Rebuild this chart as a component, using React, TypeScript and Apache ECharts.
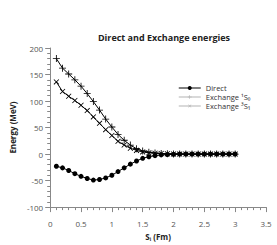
import React, { useEffect, useRef } from "react";
import * as echarts from "echarts";

const xValues = [0.1, 0.2, 0.3, 0.4, 0.5, 0.6, 0.7, 0.8, 0.9, 1.0, 1.1, 1.2, 1.3, 1.4, 1.5, 1.6, 1.7, 1.8, 1.9, 2.0, 2.1, 2.2, 2.3, 2.4, 2.5, 2.6, 2.7, 2.8, 2.9, 3.0];
const directValues = [-23, -26, -31, -37, -42, -46, -49, -48, -45, -40, -33, -26, -19, -13, -8, -5, -3, -1.5, -1, -0.5, 0, 0, 0, 0, 0, 0, 0, 0, 0, 0];
const exchange1S0 = [180, 162, 151, 140, 128, 114, 99, 83, 66, 51, 37, 26, 17, 10, 6, 3.5, 2, 1, 0.5, 0.3, 0, 0, 0, 0, 0, 0, 0, 0, 0, 0];
const exchange3S1 = [136, 118, 109, 101, 92, 82, 70, 58, 46, 35, 24, 17, 11, 7, 4, 2.5, 1.5, 1, 0.5, 0.2, 0, 0, 0, 0, 0, 0, 0, 0, 0, 0];

const seriesNames = ["Direct", "Exchange ¹S₀", "Exchange ³S₁"];
const titleText = "Direct and Exchange energies";
const xAxisName = "Sᵢ (Fm)";
const yAxisName = "Energy (MeV)";

const plusPath = "path://M4.4,0h1.2v10h-1.2z M0,4.4h10v1.2h-10z";

export default function App() {
  const ref = useRef<HTMLDivElement>(null);
  useEffect(() => {
    if (!ref.current) return;
    const chart = echarts.init(ref.current, null, { renderer: "svg" });
    const pair = (vals: number[]) => xValues.map((x, i) => [x, vals[i]]);
    const font = "Open Sans";
    chart.setOption({
      animation: false,
      textStyle: { fontFamily: font },
      title: {
        text: titleText,
        left: 159,
        textAlign: "center",
        top: 28,
        textStyle: { fontSize: 9, fontWeight: "bold", color: "#222", fontFamily: font },
      },
      legend: {
        orient: "vertical",
        left: 178,
        top: 84,
        itemWidth: 22,
        itemHeight: 5,
        itemGap: 1,
        padding: 0,
        textStyle: { fontSize: 7.5, lineHeight: 8, color: "#333", fontFamily: font },
        data: [
          { name: seriesNames[0], lineStyle: { width: 1 } },
          { name: seriesNames[1], itemStyle: { color: "#aaa" }, lineStyle: { color: "#ccc", width: 1.5 } },
          { name: seriesNames[2], itemStyle: { color: "#aaa" }, lineStyle: { color: "#ccc", width: 1.5 } },
        ],
      },
      grid: { left: 45, right: 11, top: 48, bottom: 33, containLabel: false },
      xAxis: {
        type: "value",
        min: 0,
        max: 3.5,
        interval: 0.5,
        name: xAxisName,
        nameLocation: "middle",
        nameGap: 22,
        nameTextStyle: { fontSize: 8, fontWeight: "bold", color: "#222" },
        axisLine: { onZero: false, lineStyle: { color: "#888" } },
        axisTick: { show: true, length: 5, lineStyle: { color: "#888" } },
        minorTick: { show: true, splitNumber: 5, length: 3, lineStyle: { color: "#888" } },
        axisLabel: { fontSize: 8, color: "#555", margin: 12 },
        splitLine: { show: false },
      },
      yAxis: {
        type: "value",
        min: -100,
        max: 200,
        interval: 50,
        name: yAxisName,
        nameLocation: "middle",
        nameGap: 33,
        nameTextStyle: { fontSize: 8, fontWeight: "bold", color: "#222" },
        axisLine: { show: true, lineStyle: { color: "#888" } },
        axisTick: { show: true, length: 5, lineStyle: { color: "#888" } },
        minorTick: { show: true, splitNumber: 5, length: 3, lineStyle: { color: "#888" } },
        axisLabel: { fontSize: 8, color: "#555", margin: 7 },
        splitLine: { show: false },
      },
      series: [
        {
          name: seriesNames[0],
          type: "line",
          data: pair(directValues),
          symbol: "circle",
          symbolSize: 5,
          showAllSymbol: true,
          itemStyle: { color: "#000" },
          lineStyle: { color: "#000", width: 1 },
        },
        {
          name: seriesNames[1],
          type: "line",
          data: pair(exchange1S0),
          symbol: plusPath,
          symbolSize: 7,
          showAllSymbol: true,
          itemStyle: { color: "#000" },
          lineStyle: { color: "#000", width: 1 },
        },
        {
          name: seriesNames[2],
          type: "line",
          data: pair(exchange3S1),
          symbol: plusPath,
          symbolSize: 7,
          symbolRotate: 45,
          showAllSymbol: true,
          itemStyle: { color: "#000" },
          lineStyle: { color: "#000", width: 1 },
        },
      ],
    });
    return () => chart.dispose();
  }, []);
  return <div ref={ref} style={{ position: "absolute", left: 0, top: 0, width: 277, height: 245 }} />;
}
